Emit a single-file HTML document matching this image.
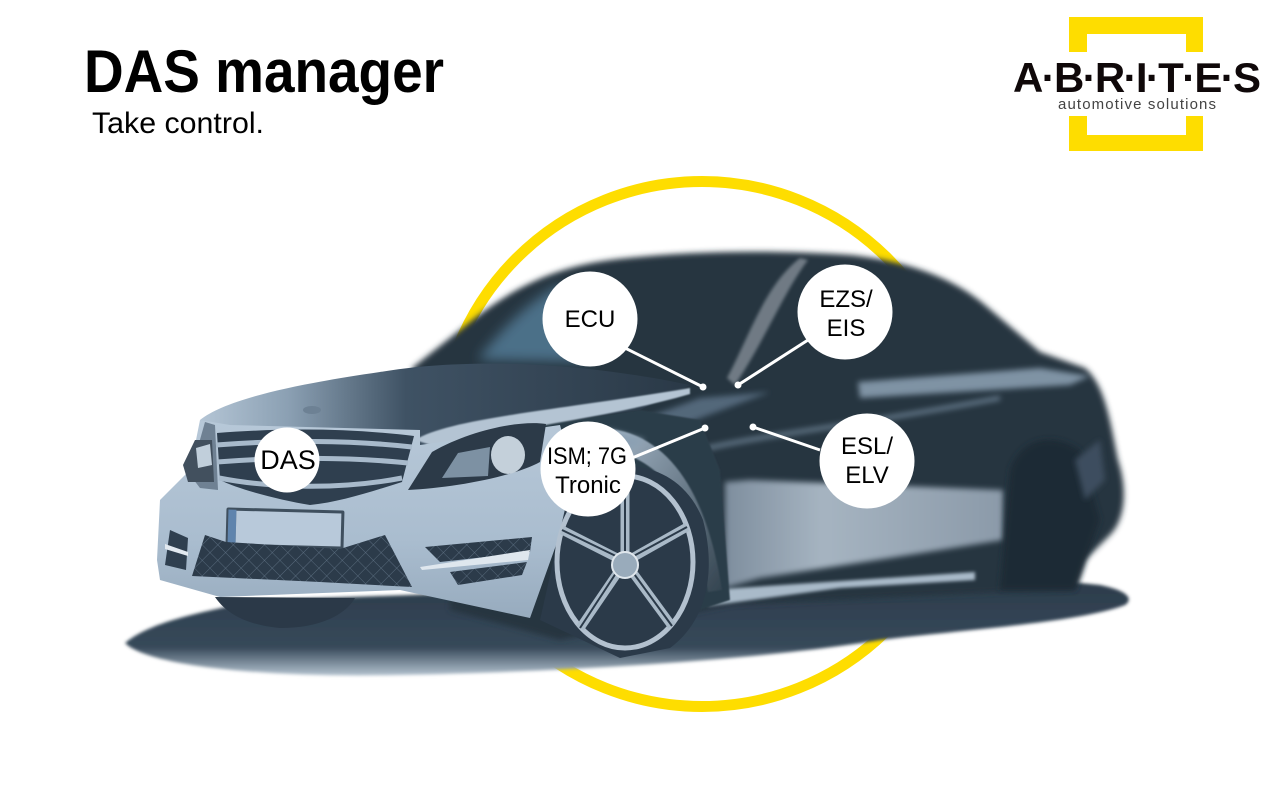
<!DOCTYPE html>
<html><head><meta charset="utf-8"><title>DAS manager</title>
<style>
html,body{margin:0;padding:0;background:#fff}
svg{display:block}
text{font-family:"Liberation Sans",sans-serif}
</style></head>
<body>
<svg width="1280" height="800" viewBox="0 0 1280 800" xmlns="http://www.w3.org/2000/svg">
<defs>
<filter id="b6" x="-20%" y="-20%" width="140%" height="140%"><feGaussianBlur stdDeviation="6"/></filter>
<filter id="b3" x="-20%" y="-20%" width="140%" height="140%"><feGaussianBlur stdDeviation="3"/></filter>
<filter id="b15" x="-20%" y="-20%" width="140%" height="140%"><feGaussianBlur stdDeviation="1.5"/></filter>
<filter id="b1" x="-20%" y="-20%" width="140%" height="140%"><feGaussianBlur stdDeviation=".8"/></filter>
<linearGradient id="hood" x1="0" y1="0" x2="1" y2="0"><stop offset="0" stop-color="#b4c5d5"/><stop offset=".18" stop-color="#8ba0b3"/><stop offset=".42" stop-color="#3f5264"/><stop offset="1" stop-color="#2a3947"/></linearGradient>
<linearGradient id="bump" x1="0" y1="0" x2="0" y2="1"><stop offset="0" stop-color="#b7c8d8"/><stop offset=".6" stop-color="#aabdcf"/><stop offset="1" stop-color="#97abbe"/></linearGradient>
<linearGradient id="door" x1="0" y1="0" x2="1" y2="0"><stop offset="0" stop-color="#7e8e9e"/><stop offset=".35" stop-color="#a6b4c1"/><stop offset="1" stop-color="#8b9aa9"/></linearGradient>
<linearGradient id="shadow" x1="0" y1="0" x2="0" y2="1"><stop offset="0" stop-color="#2b3b4a"/><stop offset=".72" stop-color="#37495a"/><stop offset="1" stop-color="#b3c2cf"/></linearGradient>
<linearGradient id="fender" x1="0" y1="0" x2="1" y2="1"><stop offset="0" stop-color="#a9bbcc"/><stop offset="1" stop-color="#33434f"/></linearGradient>
<pattern id="mesh" width="11" height="11" patternUnits="userSpaceOnUse" patternTransform="rotate(45)"><rect width="11" height="11" fill="#2c3b4a"/><path d="M0 0H11M0 0V11" stroke="#64778a" stroke-width=".8"/></pattern>
</defs>

<rect width="1280" height="800" fill="#fff"/>

<!-- title -->
<text x="84" y="92" font-size="60" font-weight="700" fill="#000" textLength="360" lengthAdjust="spacingAndGlyphs">DAS manager</text>
<text x="92" y="133" font-size="30" fill="#000" textLength="172" lengthAdjust="spacingAndGlyphs">Take control.</text>

<!-- logo -->
<path d="M1069 17H1203V52H1186V34H1087V52H1069Z" fill="#fedd00"/>
<path d="M1069 116H1087V135H1186V116H1203V151H1069Z" fill="#fedd00"/>
<rect x="1010" y="53" width="255" height="62" fill="#fff"/>
<text x="1013" y="92" font-size="42" font-weight="700" fill="#0f0809" textLength="248" lengthAdjust="spacing">A·B·R·I·T·E·S</text>
<text x="1058" y="109" font-size="15" fill="#444" textLength="158" lengthAdjust="spacing">automotive solutions</text>

<!-- yellow ring -->
<circle cx="702" cy="444" r="262.5" fill="none" stroke="#fedd00" stroke-width="11"/>

<!-- ground shadow -->
<path d="M125 643 C150 622 200 612 260 600 L1000 575 L1100 585 C1125 590 1135 598 1125 605 C1080 622 980 628 880 640 C760 660 560 672 400 675 C280 678 150 668 125 643Z" fill="url(#shadow)" filter="url(#b15)"/>

<!-- blurred dark body -->
<path d="M412 368 L470 322 C510 290 550 268 610 260 C690 250 780 250 850 255 C900 260 950 275 985 305 L1040 352 L1085 368 C1105 385 1110 420 1118 460 C1128 490 1125 520 1110 535 L1085 560 L1075 590 L1000 592 L730 605 L560 640 L450 610 L450 500 Z" fill="#26343f" filter="url(#b3)"/>

<!-- windshield glints -->
<path d="M478 360 C500 330 530 300 560 285 L610 320 L590 362Z" fill="#4c7088" filter="url(#b6)"/>
<path d="M727 378 C750 335 765 285 800 258 L808 260 C785 290 765 340 735 385Z" fill="#6f7a84" filter="url(#b15)"/>

<!-- side reflections -->
<path d="M858 382 L1040 368 L1090 376 L1070 385 L860 398Z" fill="#7f93a4" filter="url(#b3)"/>
<path d="M725 482 L750 480 L1003 490 L1003 540 L890 558 L760 578 L725 588Z" fill="url(#door)" filter="url(#b3)"/>
<path d="M745 475 L745 550" fill="none" stroke="#3b4a58" stroke-width="2" filter="url(#b1)"/>
<path d="M1010 470 C1020 440 1050 430 1080 450 L1100 520 L1075 590 L1000 590Z" fill="#1f2b36" filter="url(#b3)"/>
<path d="M708 590 L975 572 L975 580 L840 588 L708 606Z" fill="#a9bac9" filter="url(#b15)"/>
<path d="M700 450 C760 435 860 425 1000 398" fill="none" stroke="#6b7f91" stroke-width="4" filter="url(#b3)"/>
<path d="M640 420 L700 398 L770 392 L690 422Z" fill="#52677a" filter="url(#b3)"/>
<path d="M1075 460 L1100 440 L1105 480 L1085 500Z" fill="#3d4e5e" filter="url(#b3)"/>

<!-- fender over front wheel -->
<path d="M540 425 L640 410 L700 420 L720 470 L730 600 L700 610 L560 500Z" fill="#2c3c4a" filter="url(#b1)"/>
<path d="M600 428 C660 430 705 480 722 590 L708 592 C695 500 660 460 610 450Z" fill="url(#fender)" filter="url(#b1)"/>
<path d="M540 445 L610 430 L645 440 L600 470 L540 480Z" fill="#8ba0b3" filter="url(#b3)"/>

<!-- hood -->
<path d="M200 420 C225 400 290 385 380 372 C450 360 560 358 690 385 L640 410 C570 420 500 425 425 450 L210 432Z" fill="url(#hood)"/>
<path d="M415 440 C450 418 560 410 690 388 L690 394 C600 420 520 425 440 448Z" fill="#b4c4d3" filter="url(#b1)"/>
<ellipse cx="312" cy="410" rx="9" ry="4" fill="#6d8194"/>

<!-- front bumper and face -->
<path d="M160 500 L190 470 L200 420 L230 425 L420 430 L420 445 L560 425 L575 480 L565 520 L530 618 L400 590 L220 597 L160 580 L157 560Z" fill="url(#bump)"/>
<path d="M190 475 L205 422 L215 425 L218 490 L200 488Z" fill="#6f8193"/>

<!-- grille -->
<path d="M217 433 C280 428 350 428 414 436 L402 482 C370 492 340 502 310 505 C280 500 240 490 220 480Z" fill="#2f3f4f"/>
<path d="M216 445 C280 440 350 440 412 447 M217 462 C280 457 350 457 408 463 M219 478 C270 488 340 490 402 478" fill="none" stroke="#a8bacb" stroke-width="5"/>

<!-- headlight -->
<path d="M408 490 L432 452 C470 430 520 420 546 424 L540 462 C510 478 450 488 408 490Z" fill="#2c3a48"/>
<path d="M442 478 L458 453 L490 447 L488 476Z" fill="#7d91a3"/>
<ellipse cx="508" cy="455" rx="17" ry="19" fill="#c4d0da"/>
<path d="M183 465 L195 440 L212 440 L214 482 L188 482Z" fill="#42505e"/>
<path d="M196 448 L210 444 L212 465 L198 468Z" fill="#c1cfdb"/>

<!-- plate -->
<rect x="226" y="509" width="118" height="39" rx="2" fill="#3f4f5e" transform="rotate(1.5 285 528)"/>
<rect x="228" y="511" width="8" height="33" fill="#5f84ad" transform="rotate(1.5 285 528)"/>
<rect x="236" y="512" width="105" height="33" fill="#b8c9da" transform="rotate(1.5 285 528)"/>

<!-- lower grille & fog lights -->
<path d="M205 535 L226 542 L340 549 L385 535 L412 587 L320 582 L192 576Z" fill="url(#mesh)"/>
<path d="M425 547 L532 537 L530 552 L440 562Z" fill="url(#mesh)"/>
<path d="M450 572 L527 562 L522 575 L458 585Z" fill="url(#mesh)"/>
<path d="M420 567 L530 550 L528 560 L422 570Z" fill="#dfe7ee"/>
<path d="M170 530 L188 538 L186 570 L165 565Z" fill="#2f3f4f"/>
<path d="M165 544 L188 552 L188 556 L165 549Z" fill="#e2e9f0"/>

<!-- front-left tyre -->
<path d="M215 597 L355 598 C345 615 320 628 280 628 C245 625 225 612 215 597Z" fill="#2b3948"/>

<!-- front wheel -->
<path d="M572 478 C620 455 680 462 703 520 C716 570 708 620 670 648 L620 658 L540 620Z" fill="#2b3a49"/>
<ellipse cx="625" cy="562" rx="68" ry="86" fill="none" stroke="#b3c1cf" stroke-width="5"/>
<g stroke="#a9b9c7" stroke-width="9" fill="none">
<path d="M625 562V482"/><path d="M625 562L687 527"/><path d="M625 562L672 626"/><path d="M625 562L580 628"/><path d="M625 562L562 530"/>
</g>
<g stroke="#2b3a49" stroke-width="2" fill="none">
<path d="M625 555V482"/><path d="M630 558L687 527"/><path d="M629 567L672 626"/><path d="M620 567L580 628"/><path d="M620 558L562 530"/>
</g>
<circle cx="625" cy="565" r="13" fill="#99abbb" stroke="#dfe6ec" stroke-width="2"/>

<!-- connector lines -->
<g stroke="#fff" stroke-width="3" fill="#fff">
<line x1="625" y1="348" x2="703" y2="387"/>
<line x1="808" y1="340" x2="738" y2="385"/>
<line x1="632" y1="458" x2="705" y2="428"/>
<line x1="820" y1="450" x2="753" y2="427"/>
</g>
<g fill="#fff">
<circle cx="703" cy="387" r="3.5"/><circle cx="738" cy="385" r="3.5"/><circle cx="705" cy="428" r="3.5"/><circle cx="753" cy="427" r="3.5"/>
</g>

<!-- nodes -->
<g fill="#fff">
<circle cx="590" cy="319" r="47.5"/>
<circle cx="845" cy="312" r="47.5"/>
<circle cx="867" cy="461" r="47.5"/>
<circle cx="588" cy="469" r="47.5"/>
<circle cx="287" cy="460" r="32.5"/>
</g>
<g fill="#000" font-size="24" text-anchor="middle">
<text x="590" y="327">ECU</text>
<text x="846" y="307">EZS/</text>
<text x="846" y="336">EIS</text>
<text x="867" y="454">ESL/</text>
<text x="867" y="483">ELV</text>
<text x="587" y="464" textLength="80" lengthAdjust="spacingAndGlyphs">ISM; 7G</text>
<text x="588" y="493">Tronic</text>
<text x="288" y="469" font-size="27">DAS</text>
</g>
</svg>
</body></html>
